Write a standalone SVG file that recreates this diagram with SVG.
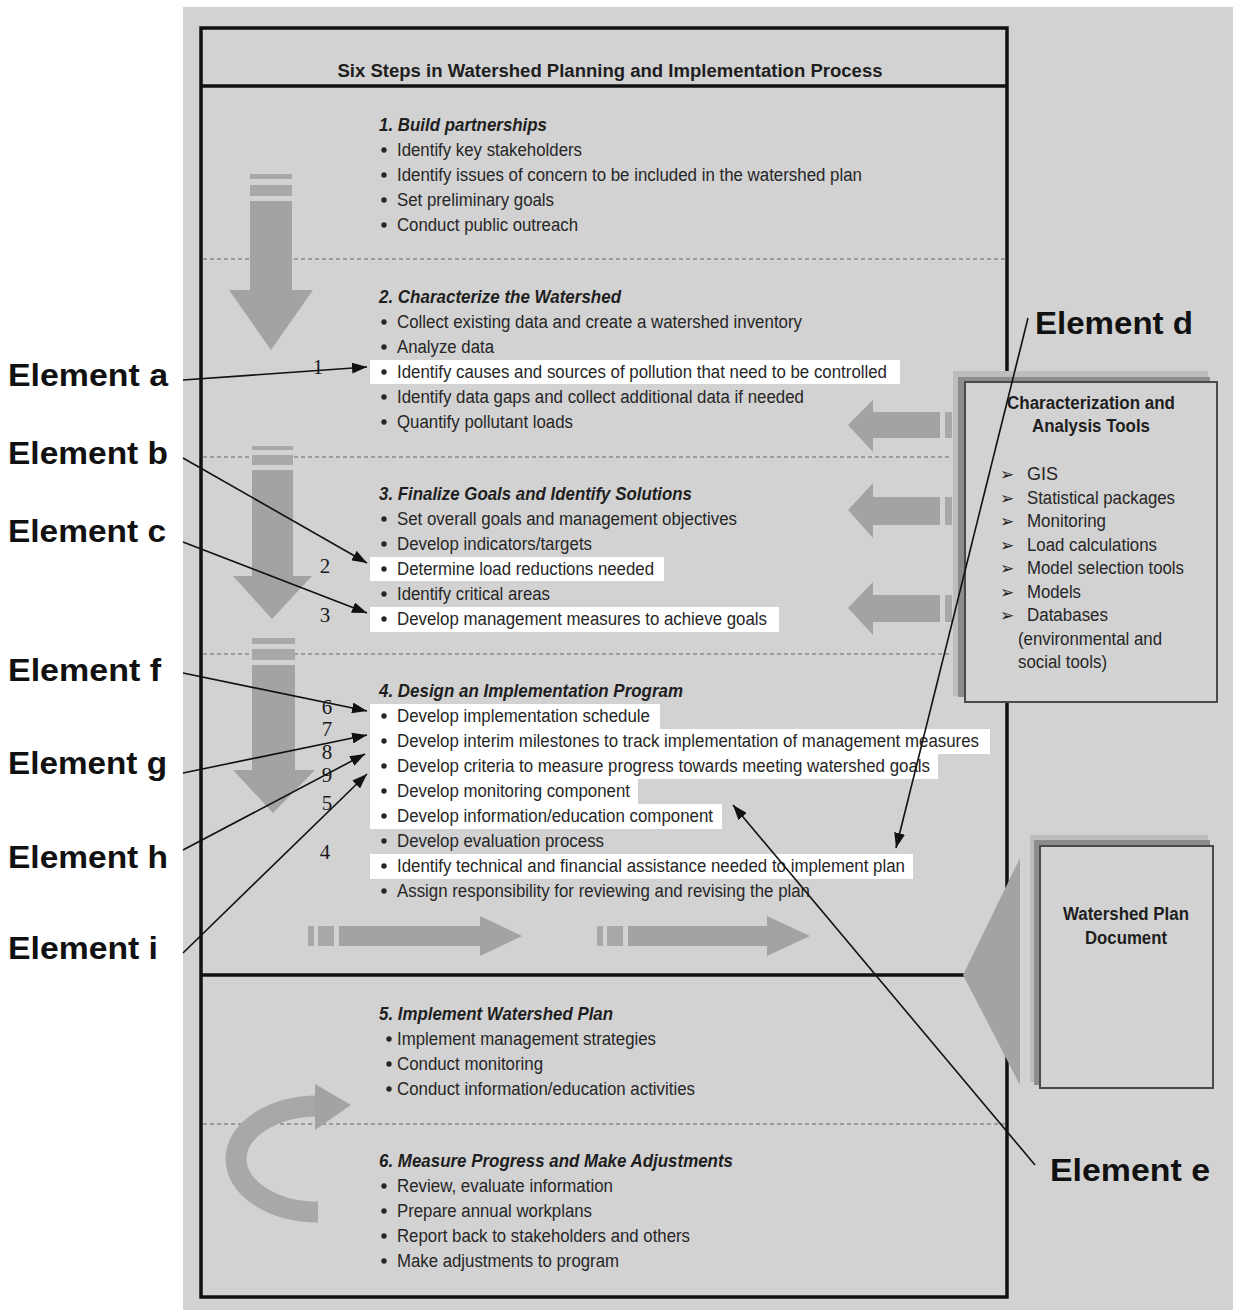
<svg xmlns="http://www.w3.org/2000/svg" width="1233" height="1310" viewBox="0 0 1233 1310">
<style>
.t{font-family:"Liberation Sans",Arial,sans-serif;font-size:18px;fill:#262626}
.h{font-family:"Liberation Sans",Arial,sans-serif;font-size:18px;font-weight:bold;font-style:italic;fill:#1e1e1e}
.b{font-family:"Liberation Sans",Arial,sans-serif;font-size:18px;font-weight:bold;fill:#1e1e1e}
.n{font-family:"Liberation Serif","Times New Roman",serif;font-size:21px;fill:#1a1a1a;text-anchor:middle}
.el{font-family:"Liberation Sans",Arial,sans-serif;font-size:31px;font-weight:bold;fill:#111}
.ar{fill:#a3a3a3}
.st{fill:#a8a8a8}
.hl{fill:#ffffff}
.bu{fill:#262626}
.dash{stroke:#8a8a8a;stroke-width:1.5;stroke-dasharray:4,3;fill:none}
.con{stroke:#111;stroke-width:1.6;fill:none;marker-end:url(#ah)}
.chev{font-family:"DejaVu Sans",sans-serif;font-size:17px;font-weight:bold;fill:#222}
</style>
<defs>
<marker id="ah" markerWidth="15" markerHeight="11" refX="15" refY="5.5" orient="auto" markerUnits="userSpaceOnUse">
<path d="M0,0 L15,5.5 L0,11 z" fill="#111"/>
</marker>
</defs>
<rect x="0" y="0" width="1233" height="1310" fill="#ffffff"/>
<rect x="183" y="7" width="1050" height="1303" fill="#d2d2d2"/>

<g id="main-frame">
<rect x="201" y="28" width="806" height="1269" fill="#d2d2d2" stroke="#111" stroke-width="3.5"/>
<line x1="201" y1="86" x2="1007" y2="86" stroke="#111" stroke-width="3.5"/>
<line x1="201" y1="975" x2="965" y2="975" stroke="#111" stroke-width="3.5"/>
<text class="b" x="610" y="77" text-anchor="middle" font-size="20" textLength="545" lengthAdjust="spacingAndGlyphs">Six Steps in Watershed Planning and Implementation Process</text>
</g>

<g id="dividers">
<line class="dash" x1="203" y1="259" x2="1005" y2="259"/>
<line class="dash" x1="203" y1="457" x2="950" y2="457"/>
<line class="dash" x1="203" y1="654" x2="950" y2="654"/>
<line class="dash" x1="203" y1="1124" x2="1005" y2="1124"/>
</g>

<g id="flow-arrows">
<rect class="st" x="250" y="174" width="42" height="5"/>
<rect class="st" x="250" y="185" width="42" height="11"/>
<polygon class="ar" points="250,201 292,201 292,290 313,290 271,350 229,290 250,290"/>
<rect class="st" x="252" y="446" width="41" height="4"/>
<rect class="st" x="252" y="455" width="41" height="10"/>
<polygon class="ar" points="252,470 293,470 293,576 312,576 272,619 233,576 252,576"/>
<rect class="st" x="252" y="638" width="43" height="6"/>
<rect class="st" x="252" y="649" width="43" height="11"/>
<polygon class="ar" points="252,665 295,665 295,770 315,770 273,813 233,770 252,770"/>
<rect class="st" x="308" y="926" width="6" height="20"/>
<rect class="st" x="318" y="926" width="16" height="20"/>
<polygon class="ar" points="339,926 480,926 480,916 522,936 480,956 480,946 339,946"/>
<rect class="st" x="597" y="926" width="6" height="20"/>
<rect class="st" x="607" y="926" width="16" height="20"/>
<polygon class="ar" points="628,926 767,926 767,916 810,936 767,956 767,946 628,946"/>
<polygon class="ar" points="848,425 873,400 873,412 940,412 940,438 873,438 873,452"/>
<rect class="st" x="945" y="412" width="7" height="26"/>
<polygon class="ar" points="848,510 873,483 873,497 940,497 940,525 873,525 873,538"/>
<rect class="st" x="945" y="497" width="7" height="28"/>
<polygon class="ar" points="848,608 873,582 873,595 940,595 940,622 873,622 873,635"/>
<rect class="st" x="945" y="595" width="7" height="27"/>
<path d="M318,1212 A82,53 0 0 1 318,1106" stroke="#a8a8a8" stroke-width="21" fill="none"/>
<polygon class="ar" points="315,1084 351,1105 315,1130"/>
</g>

<g id="highlights">
<rect class="hl" x="370" y="360" width="530" height="24"/>
<rect class="hl" x="370" y="557" width="294" height="24"/>
<rect class="hl" x="370" y="607" width="409" height="25"/>
<rect class="hl" x="370" y="704" width="290" height="25"/>
<rect class="hl" x="370" y="729" width="620" height="25"/>
<rect class="hl" x="370" y="754" width="568" height="25"/>
<rect class="hl" x="370" y="779" width="268" height="25"/>
<rect class="hl" x="370" y="804" width="352" height="25"/>
<rect class="hl" x="370" y="854" width="543" height="25"/>
</g>

<g id="step1">
<text class="h" x="379" y="131" textLength="168" lengthAdjust="spacingAndGlyphs">1. Build partnerships</text>
<circle class="bu" cx="384" cy="150" r="2.7"/><text class="t" x="397" y="156" textLength="185" lengthAdjust="spacingAndGlyphs">Identify key stakeholders</text>
<circle class="bu" cx="384" cy="175" r="2.7"/><text class="t" x="397" y="181" textLength="465" lengthAdjust="spacingAndGlyphs">Identify issues of concern to be included in the watershed plan</text>
<circle class="bu" cx="384" cy="200" r="2.7"/><text class="t" x="397" y="206" textLength="157" lengthAdjust="spacingAndGlyphs">Set preliminary goals</text>
<circle class="bu" cx="384" cy="225" r="2.7"/><text class="t" x="397" y="231" textLength="181" lengthAdjust="spacingAndGlyphs">Conduct public outreach</text>
</g>

<g id="step2">
<text class="h" x="379" y="303" textLength="242" lengthAdjust="spacingAndGlyphs">2. Characterize the Watershed</text>
<circle class="bu" cx="384" cy="322" r="2.7"/><text class="t" x="397" y="328" textLength="405" lengthAdjust="spacingAndGlyphs">Collect existing data and create a watershed inventory</text>
<circle class="bu" cx="384" cy="347" r="2.7"/><text class="t" x="397" y="353" textLength="97" lengthAdjust="spacingAndGlyphs">Analyze data</text>
<circle class="bu" cx="384" cy="372" r="2.7"/><text class="t" x="397" y="378" textLength="490" lengthAdjust="spacingAndGlyphs">Identify causes and sources of pollution that need to be controlled</text>
<circle class="bu" cx="384" cy="397" r="2.7"/><text class="t" x="397" y="403" textLength="407" lengthAdjust="spacingAndGlyphs">Identify data gaps and collect additional data if needed</text>
<circle class="bu" cx="384" cy="422" r="2.7"/><text class="t" x="397" y="428" textLength="176" lengthAdjust="spacingAndGlyphs">Quantify pollutant loads</text>
</g>

<g id="step3">
<text class="h" x="379" y="500" textLength="313" lengthAdjust="spacingAndGlyphs">3. Finalize Goals and Identify Solutions</text>
<circle class="bu" cx="384" cy="519" r="2.7"/><text class="t" x="397" y="525" textLength="340" lengthAdjust="spacingAndGlyphs">Set overall goals and management objectives</text>
<circle class="bu" cx="384" cy="544" r="2.7"/><text class="t" x="397" y="550" textLength="195" lengthAdjust="spacingAndGlyphs">Develop indicators/targets</text>
<circle class="bu" cx="384" cy="569" r="2.7"/><text class="t" x="397" y="575" textLength="257" lengthAdjust="spacingAndGlyphs">Determine load reductions needed</text>
<circle class="bu" cx="384" cy="594" r="2.7"/><text class="t" x="397" y="600" textLength="153" lengthAdjust="spacingAndGlyphs">Identify critical areas</text>
<circle class="bu" cx="384" cy="619" r="2.7"/><text class="t" x="397" y="625" textLength="370" lengthAdjust="spacingAndGlyphs">Develop management measures to achieve goals</text>
</g>

<g id="step4">
<text class="h" x="379" y="697" textLength="304" lengthAdjust="spacingAndGlyphs">4. Design an Implementation Program</text>
<circle class="bu" cx="384" cy="716" r="2.7"/><text class="t" x="397" y="722" textLength="253" lengthAdjust="spacingAndGlyphs">Develop implementation schedule</text>
<circle class="bu" cx="384" cy="741" r="2.7"/><text class="t" x="397" y="747" textLength="582" lengthAdjust="spacingAndGlyphs">Develop interim milestones to track implementation of management measures</text>
<circle class="bu" cx="384" cy="766" r="2.7"/><text class="t" x="397" y="772" textLength="533" lengthAdjust="spacingAndGlyphs">Develop criteria to measure progress towards meeting watershed goals</text>
<circle class="bu" cx="384" cy="791" r="2.7"/><text class="t" x="397" y="797" textLength="233" lengthAdjust="spacingAndGlyphs">Develop monitoring component</text>
<circle class="bu" cx="384" cy="816" r="2.7"/><text class="t" x="397" y="822" textLength="316" lengthAdjust="spacingAndGlyphs">Develop information/education component</text>
<circle class="bu" cx="384" cy="841" r="2.7"/><text class="t" x="397" y="847" textLength="207" lengthAdjust="spacingAndGlyphs">Develop evaluation process</text>
<circle class="bu" cx="384" cy="866" r="2.7"/><text class="t" x="397" y="872" textLength="508" lengthAdjust="spacingAndGlyphs">Identify technical and financial assistance needed to implement plan</text>
<circle class="bu" cx="384" cy="891" r="2.7"/><text class="t" x="397" y="897" textLength="413" lengthAdjust="spacingAndGlyphs">Assign responsibility for reviewing and revising the plan</text>
</g>

<g id="step5">
<text class="h" x="379" y="1020" textLength="234" lengthAdjust="spacingAndGlyphs">5. Implement Watershed Plan</text>
<circle class="bu" cx="389" cy="1039" r="2.7"/><text class="t" x="397" y="1045" textLength="259" lengthAdjust="spacingAndGlyphs">Implement management strategies</text>
<circle class="bu" cx="389" cy="1064" r="2.7"/><text class="t" x="397" y="1070" textLength="146" lengthAdjust="spacingAndGlyphs">Conduct monitoring</text>
<circle class="bu" cx="389" cy="1089" r="2.7"/><text class="t" x="397" y="1095" textLength="298" lengthAdjust="spacingAndGlyphs">Conduct information/education activities</text>
</g>

<g id="step6">
<text class="h" x="379" y="1167" textLength="354" lengthAdjust="spacingAndGlyphs">6. Measure Progress and Make Adjustments</text>
<circle class="bu" cx="384" cy="1186" r="2.7"/><text class="t" x="397" y="1192" textLength="216" lengthAdjust="spacingAndGlyphs">Review, evaluate information</text>
<circle class="bu" cx="384" cy="1211" r="2.7"/><text class="t" x="397" y="1217" textLength="195" lengthAdjust="spacingAndGlyphs">Prepare annual workplans</text>
<circle class="bu" cx="384" cy="1236" r="2.7"/><text class="t" x="397" y="1242" textLength="293" lengthAdjust="spacingAndGlyphs">Report back to stakeholders and others</text>
<circle class="bu" cx="384" cy="1261" r="2.7"/><text class="t" x="397" y="1267" textLength="222" lengthAdjust="spacingAndGlyphs">Make adjustments to program</text>
</g>

<g id="tools-box">
<rect x="953" y="371" width="255" height="325" fill="#bdbdbd"/>
<rect x="958" y="377" width="252" height="320" fill="#8c8c8c"/>
<rect x="965" y="382" width="252" height="320" fill="#d2d2d2" stroke="#4a4a4a" stroke-width="2"/>
<text class="b" x="1091" y="409" text-anchor="middle" textLength="168" lengthAdjust="spacingAndGlyphs">Characterization and</text>
<text class="b" x="1091" y="432" text-anchor="middle" textLength="118" lengthAdjust="spacingAndGlyphs">Analysis Tools</text>
<text class="chev" x="1000" y="480">➢</text><text class="t" x="1027" y="480">GIS</text>
<text class="chev" x="1000" y="504">➢</text><text class="t" x="1027" y="504" textLength="148" lengthAdjust="spacingAndGlyphs">Statistical packages</text>
<text class="chev" x="1000" y="527">➢</text><text class="t" x="1027" y="527" textLength="79" lengthAdjust="spacingAndGlyphs">Monitoring</text>
<text class="chev" x="1000" y="551">➢</text><text class="t" x="1027" y="551" textLength="130" lengthAdjust="spacingAndGlyphs">Load calculations</text>
<text class="chev" x="1000" y="574">➢</text><text class="t" x="1027" y="574" textLength="157" lengthAdjust="spacingAndGlyphs">Model selection tools</text>
<text class="chev" x="1000" y="598">➢</text><text class="t" x="1027" y="598" textLength="54" lengthAdjust="spacingAndGlyphs">Models</text>
<text class="chev" x="1000" y="621">➢</text><text class="t" x="1027" y="621" textLength="81" lengthAdjust="spacingAndGlyphs">Databases</text>
<text class="t" x="1018" y="645" textLength="144" lengthAdjust="spacingAndGlyphs">(environmental and</text>
<text class="t" x="1018" y="668" textLength="89" lengthAdjust="spacingAndGlyphs">social tools)</text>
</g>

<g id="plan-document">
<polygon fill="#a3a3a3" points="963,975 1020,858 1020,1085"/>
<rect x="1030" y="835" width="178" height="247" fill="#bdbdbd"/>
<rect x="1034" y="840" width="176" height="245" fill="#8c8c8c"/>
<rect x="1040" y="846" width="173" height="242" fill="#d2d2d2" stroke="#4a4a4a" stroke-width="2"/>
<text class="b" x="1126" y="920" text-anchor="middle" textLength="126" lengthAdjust="spacingAndGlyphs">Watershed Plan</text>
<text class="b" x="1126" y="944" text-anchor="middle" textLength="82" lengthAdjust="spacingAndGlyphs">Document</text>
</g>

<g id="connectors">
<line class="con" x1="183" y1="380" x2="367" y2="367"/>
<line class="con" x1="183" y1="458" x2="367" y2="563"/>
<line class="con" x1="183" y1="542" x2="367" y2="613"/>
<line class="con" x1="183" y1="673" x2="367" y2="711"/>
<line class="con" x1="183" y1="773" x2="367" y2="735"/>
<line class="con" x1="183" y1="850" x2="365" y2="754"/>
<line class="con" x1="183" y1="953" x2="367" y2="774"/>
<line class="con" x1="1028" y1="318" x2="896" y2="848"/>
<line class="con" x1="1035" y1="1165" x2="733" y2="805"/>
</g>

<g id="numbers">
<text class="n" x="318" y="374">1</text>
<text class="n" x="325" y="573">2</text>
<text class="n" x="325" y="622">3</text>
<text class="n" x="327" y="714">6</text>
<text class="n" x="327" y="736">7</text>
<text class="n" x="327" y="759">8</text>
<text class="n" x="327" y="782">9</text>
<text class="n" x="327" y="810">5</text>
<text class="n" x="325" y="859">4</text>
</g>

<g id="element-labels">
<text class="el" x="8" y="386" textLength="160" lengthAdjust="spacingAndGlyphs">Element a</text>
<text class="el" x="8" y="464" textLength="160" lengthAdjust="spacingAndGlyphs">Element b</text>
<text class="el" x="8" y="542" textLength="158" lengthAdjust="spacingAndGlyphs">Element c</text>
<text class="el" x="8" y="681" textLength="153" lengthAdjust="spacingAndGlyphs">Element f</text>
<text class="el" x="8" y="774" textLength="159" lengthAdjust="spacingAndGlyphs">Element g</text>
<text class="el" x="8" y="868" textLength="160" lengthAdjust="spacingAndGlyphs">Element h</text>
<text class="el" x="8" y="959" textLength="150" lengthAdjust="spacingAndGlyphs">Element i</text>
<text class="el" x="1035" y="334" textLength="158" lengthAdjust="spacingAndGlyphs">Element d</text>
<text class="el" x="1050" y="1181" textLength="160" lengthAdjust="spacingAndGlyphs">Element e</text>
</g>
</svg>
